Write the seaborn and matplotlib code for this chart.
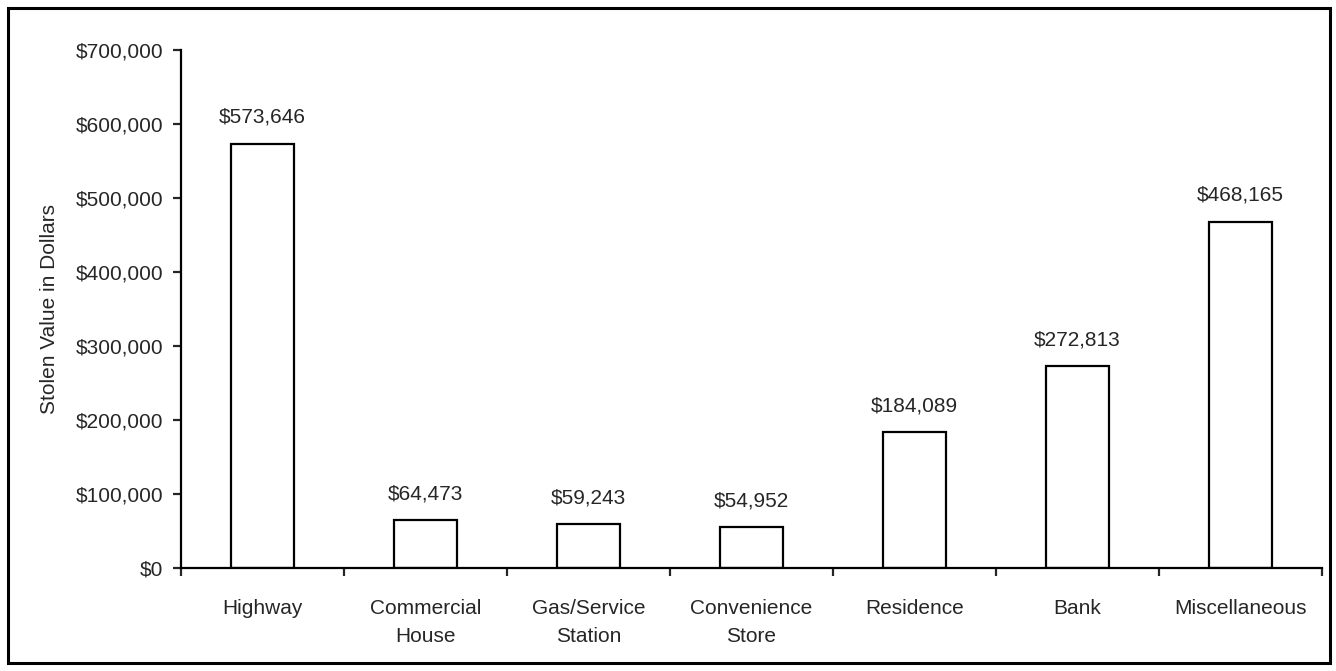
import matplotlib
matplotlib.use("Agg")
import matplotlib.pyplot as plt
import seaborn as sns
import pandas as pd
from matplotlib.patches import Rectangle
from matplotlib.ticker import FuncFormatter

categories = ["Highway", "Commercial\nHouse", "Gas/Service\nStation", "Convenience\nStore",
              "Residence", "Bank", "Miscellaneous"]
values = [573646, 64473, 59243, 54952, 184089, 272813, 468165]
yticks = [0, 100000, 200000, 300000, 400000, 500000, 600000, 700000]

sns.set_style("white")
plt.rcParams['font.family'] = ['Liberation Sans', 'DejaVu Sans']
FS = 15

df = pd.DataFrame({"cat": categories, "val": values})

fig = plt.figure(figsize=(13.36, 6.71), dpi=100)
ax = fig.add_axes([181/1336, 1-568/671, (1322-181)/1336, (568-50)/671])

sns.barplot(data=df, x="cat", y="val", ax=ax, color="white", edgecolor="black",
            linewidth=1.6, width=0.39, saturation=1)

ax.set_xlim(-0.5, len(categories)-0.5)
ax.set_ylim(0, 700000)
ax.set_yticks(yticks)
ax.yaxis.set_major_formatter(FuncFormatter(lambda v, p: f"${int(v):,}"))
ax.tick_params(axis="y", labelsize=FS, length=6, width=1.6, direction="out", left=True, pad=7)
ax.set_xticks(range(len(categories)))
ax.set_xticklabels(categories, fontsize=FS, linespacing=1.6)
ax.tick_params(axis="x", which="major", length=0, pad=22)
ax.set_xticks([i-0.5 for i in range(len(categories)+1)], minor=True)
ax.tick_params(axis="x", which="minor", length=6, width=1.6, direction="out", bottom=True)
ax.set_xlabel("")
ax.set_ylabel("Stolen Value in Dollars", fontsize=FS, labelpad=12)

for s in ["top", "right"]:
    ax.spines[s].set_visible(False)
for s in ["left", "bottom"]:
    ax.spines[s].set_linewidth(1.6)
    ax.spines[s].set_color("black")

for c in ax.containers:
    ax.bar_label(c, labels=[f"${v:,}" for v in values], fontsize=FS, padding=12)

fig.patches.append(Rectangle((8/1336, 8/671), (1330-8)/1336, (663-8)/671,
                             transform=fig.transFigure, fill=False, edgecolor="black",
                             linewidth=2.2))

fig.savefig("out.png", dpi=100)
